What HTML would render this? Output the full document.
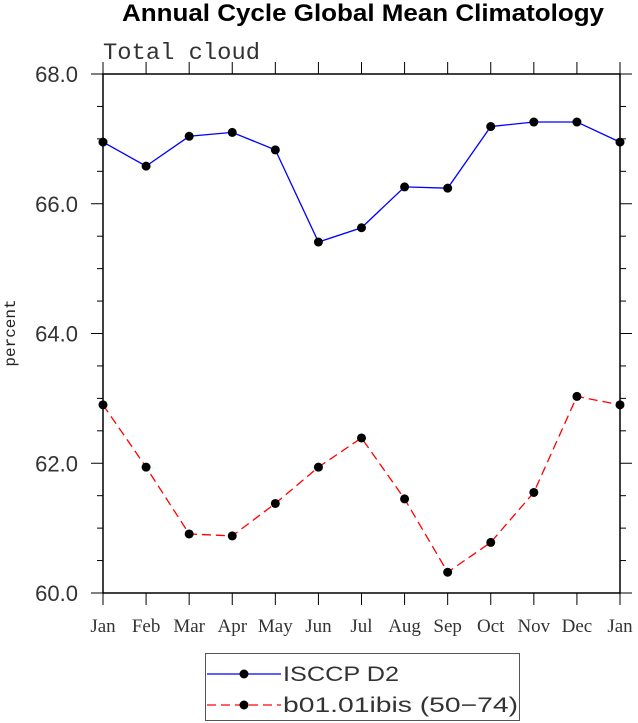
<!DOCTYPE html>
<html><head><meta charset="utf-8"><style>
body{margin:0;background:#fff;}
svg{display:block;}
</style></head><body>
<svg id="chart" width="638" height="723" xmlns="http://www.w3.org/2000/svg">
<text x="122" y="21" textLength="482" lengthAdjust="spacingAndGlyphs" font-family="Liberation Sans, sans-serif" font-weight="bold" font-size="24">Annual Cycle Global Mean Climatology</text>
<text x="103" y="59" textLength="157" lengthAdjust="spacingAndGlyphs" font-family="Liberation Mono, monospace" font-size="23" fill="#333">Total cloud</text>
<text transform="translate(15,333) rotate(-90)" text-anchor="middle" font-family="Liberation Mono, monospace" font-size="16" fill="#222">percent</text>
<g id="axes"></g>
<g id="series"></g>
<g>
<rect x="205.5" y="653.5" width="314" height="67" fill="none" stroke="#555" stroke-width="1"/>
<g>
<line x1="207" y1="674" x2="281" y2="674" stroke="#0000ff" stroke-width="1.2"/>
<circle cx="244" cy="674" r="4.5" fill="#000"/>
<text x="283" y="681" textLength="116" lengthAdjust="spacingAndGlyphs" font-family="Liberation Sans, sans-serif" font-size="21" fill="#333">ISCCP D2</text>
</g>
<g>
<line x1="207" y1="705" x2="281" y2="705" stroke="#ff0000" stroke-width="1.2" stroke-dasharray="9,5"/>
<circle cx="244" cy="705" r="4.5" fill="#000"/>
<text x="283" y="712" textLength="235" lengthAdjust="spacingAndGlyphs" font-family="Liberation Sans, sans-serif" font-size="21" fill="#333">b01.01ibis (50−74)</text>
</g>
</g>
</svg>
<script>
const months = ["Jan","Feb","Mar","Apr","May","Jun","Jul","Aug","Sep","Oct","Nov","Dec","Jan"];
const isccpValues = [66.95,66.58,67.04,67.10,66.83,65.41,65.63,66.26,66.24,67.19,67.26,67.26,66.95];
const modelValues = [62.90,61.94,60.91,60.88,61.38,61.94,62.39,61.45,60.32,60.78,61.55,63.03,62.90];
const yTicks = [60,62,64,66,68];
const yTickLabels = ["60.0","62.0","64.0","66.0","68.0"];

const L=103,R=620,T=74,B=593,yMin=60,yMax=68;
const xs=i=>L+(R-L)*i/(months.length-1);
const ys=v=>B-(v-yMin)/(yMax-yMin)*(B-T);
const NS="http://www.w3.org/2000/svg";
function mk(tag,attrs,parent){const e=document.createElementNS(NS,tag);for(const k in attrs)e.setAttribute(k,attrs[k]);parent.appendChild(e);return e;}
const axes=document.getElementById('axes');
const frame=mk('rect',{x:L,y:T,width:R-L,height:B-T,fill:'none',stroke:'#000','stroke-width':1.5},axes);


for(let v=yMin; v<=yMax+1e-9; v+=0.5){
  const y=ys(v); const major=Math.abs(v-Math.round(v/2)*2)<1e-9;
  const len=major?12:6;
  mk('line',{x1:L-len,y1:y,x2:L,y2:y,stroke:'#000','stroke-width':1},axes);
  mk('line',{x1:R,y1:y,x2:R+len,y2:y,stroke:'#000','stroke-width':1},axes);
}
yTicks.forEach((v,i)=>{
  const t=mk('text',{x:78,y:ys(v)+8,'text-anchor':'end','font-family':'Liberation Sans, sans-serif','font-size':22,fill:'#333'},axes);
  t.textContent=yTickLabels[i];
  
  
});
months.forEach((m,i)=>{
  const x=xs(i);
  mk('line',{x1:x,y1:B,x2:x,y2:B+12,stroke:'#000','stroke-width':1},axes);
  mk('line',{x1:x,y1:T-12,x2:x,y2:T,stroke:'#000','stroke-width':1},axes);
  const t=mk('text',{x:x,y:B+39,'text-anchor':'middle','font-family':'Liberation Serif, serif','font-size':19,fill:'#333'},axes);
  t.textContent=m;
  
  
});
const series=document.getElementById('series');
function draw(vals,color,dash,name){
  const g=mk('g',{},series);
  
  
  const pts=vals.map((v,i)=>xs(i)+','+ys(v)).join(' ');
  const attrs={points:pts,fill:'none',stroke:color,'stroke-width':1.3};
  if(dash)attrs['stroke-dasharray']=dash;
  mk('polyline',attrs,g);
  vals.forEach((v,i)=>{
    const c=mk('circle',{cx:xs(i),cy:ys(v),r:4.5,fill:'#000'},g);
    
    
  });
}
draw(isccpValues,'#0000ff',null,'isccp-series');
draw(modelValues,'#ff0000','9,5','model-series');
</script>
</body></html>
